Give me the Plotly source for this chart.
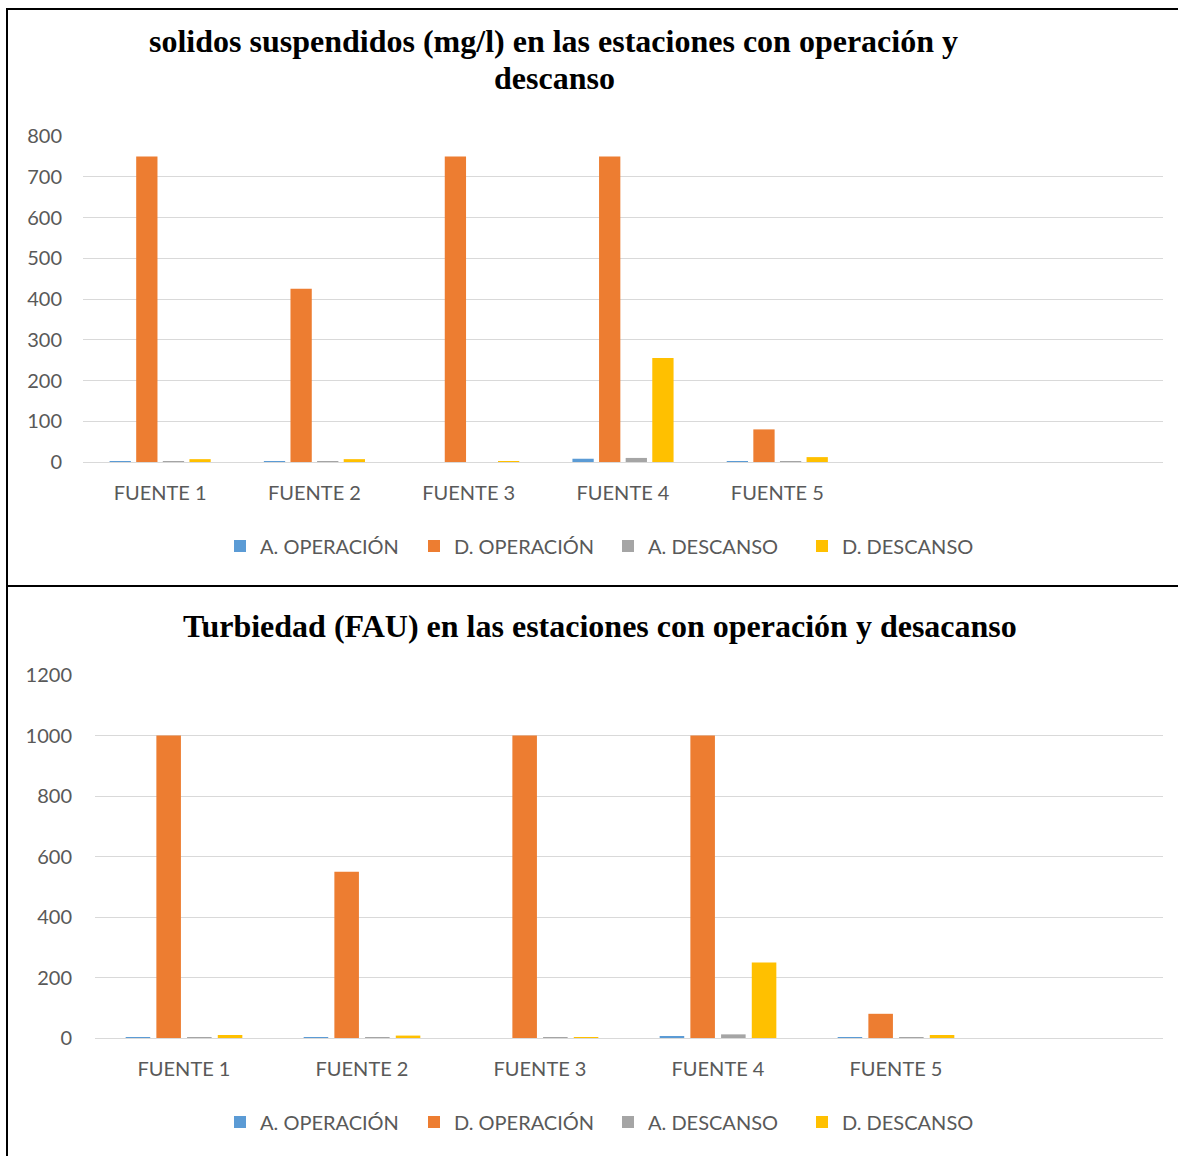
import plotly.graph_objects as go

W, H = 1178, 1156

# Sampling stations
fuentes = ["FUENTE 1", "FUENTE 2", "FUENTE 3", "FUENTE 4", "FUENTE 5"]

# Suspended solids (mg/l)
ss_a_operacion = [2, 2, 0, 8, 2]
ss_d_operacion = [750, 425, 750, 750, 80]
ss_a_descanso = [2, 1, 0, 10, 2]
ss_d_descanso = [7, 7, 1, 255, 12]

# Turbidity (FAU)
tu_a_operacion = [2, 3, 0, 6, 2]
tu_d_operacion = [1000, 550, 1000, 1000, 80]
tu_a_descanso = [2, 2, 1, 12, 2]
tu_d_descanso = [10, 8, 1, 250, 10]

series_names = ["A. OPERACIÓN", "D. OPERACIÓN", "A. DESCANSO", "D. DESCANSO"]
colors = ["#5B9BD5", "#ED7D31", "#A5A5A5", "#FFC000"]

TEXT = "#595959"
GRID = "#D9D9D9"
TICK_FONT = dict(family="Lato, 'Open Sans', sans-serif", size=20, color=TEXT)
TITLE_FONT = dict(family="'Liberation Serif', 'DejaVu Serif', serif", size=32, color="black")


def px_x(p):
    return p / W


def px_y(p):
    return 1 - p / H


fig = go.Figure()

top = [ss_a_operacion, ss_d_operacion, ss_a_descanso, ss_d_descanso]
bottom = [tu_a_operacion, tu_d_operacion, tu_a_descanso, tu_d_descanso]

for name, col, vals in zip(series_names, colors, top):
    fig.add_trace(go.Bar(x=fuentes, y=vals, name=name, marker_color=col,
                         xaxis="x", yaxis="y", legend="legend"))
for name, col, vals in zip(series_names, colors, bottom):
    fig.add_trace(go.Bar(x=fuentes, y=vals, name=name, marker_color=col,
                         xaxis="x2", yaxis="y2", legend="legend2"))

legend_common = dict(
    orientation="h", xanchor="center", yanchor="middle",
    font=TICK_FONT, bgcolor="rgba(0,0,0,0)", itemclick=False,
    traceorder="normal", entrywidth=149, entrywidthmode="pixels",
)

xcommon = dict(showgrid=False, showline=True, linecolor=GRID, linewidth=1,
               ticks="", tickfont=TICK_FONT, ticklabelstandoff=13,
               automargin=False)
ycommon = dict(showgrid=True, gridcolor=GRID, gridwidth=1, zeroline=False,
               showline=False, ticks="", tickfont=TICK_FONT, automargin=False)

fig.update_layout(
    template="none",
    width=W, height=H,
    margin=dict(l=0, r=0, t=0, b=0, pad=0, autoexpand=False),
    paper_bgcolor="white", plot_bgcolor="white",
    barmode="group", bargap=0.31, bargroupgap=0.2,
    xaxis=dict(domain=[px_x(83), px_x(1163)], anchor="y",
               range=[-0.5, 6.5], **xcommon),
    yaxis=dict(domain=[px_y(462), px_y(136)], anchor="x",
               range=[0, 800], dtick=100, ticklabelstandoff=20, **ycommon),
    xaxis2=dict(domain=[px_x(95), px_x(1163)], anchor="y2",
                range=[-0.5, 5.5], **xcommon),
    yaxis2=dict(domain=[px_y(1038), px_y(675)], anchor="x2",
                range=[0, 1200], dtick=200, ticklabelstandoff=22, **ycommon),
    legend=dict(x=px_x(608), y=px_y(546), **legend_common),
    legend2=dict(x=px_x(608), y=px_y(1122), **legend_common),
    showlegend=True,
)

# Chart titles
fig.add_annotation(text="<b>solidos suspendidos (mg/l) en las estaciones con operación y</b>",
                   x=px_x(553), y=px_y(41), xref="paper", yref="paper",
                   showarrow=False, font=TITLE_FONT, xanchor="center", yanchor="middle")
fig.add_annotation(text="<b>descanso</b>",
                   x=px_x(554), y=px_y(78), xref="paper", yref="paper",
                   showarrow=False, font=TITLE_FONT, xanchor="center", yanchor="middle")
fig.add_annotation(text="<b>Turbiedad (FAU) en las estaciones con operación y desacanso</b>",
                   x=px_x(600), y=px_y(626), xref="paper", yref="paper",
                   showarrow=False, font=TITLE_FONT, xanchor="center", yanchor="middle")

# Frames around each chart
for y0, y1 in [(9, 586), (586, 1170)]:
    fig.add_shape(type="rect", xref="paper", yref="paper",
                  x0=px_x(7), x1=px_x(1190), y0=px_y(y1), y1=px_y(y0),
                  line=dict(color="black", width=2), fillcolor="rgba(0,0,0,0)",
                  layer="above")

fig.write_html("out.html")
